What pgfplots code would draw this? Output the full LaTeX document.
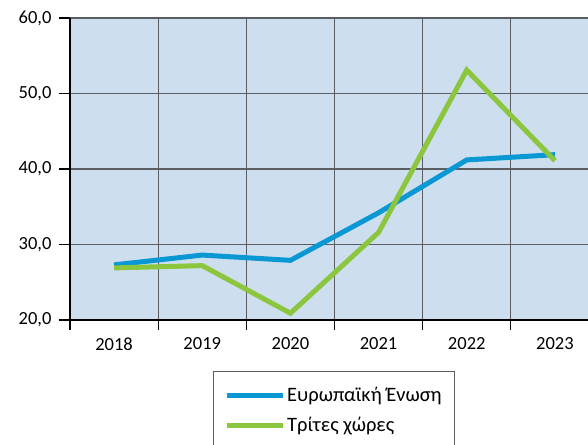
\documentclass[border=0pt]{standalone}
\usepackage{fontspec}
\setmainfont{Carlito}
\usepackage{pgfplots}
\pgfplotsset{compat=1.18}
\definecolor{bgblue}{HTML}{CDDFEE}
\definecolor{eublue}{HTML}{0A98D4}
\definecolor{tcgreen}{HTML}{8CC63F}
\definecolor{gridgray}{HTML}{5A5E63}
\begin{document}
\begin{tikzpicture}[x=1pt,y=1pt]
\useasboundingbox (0,0) rectangle (588,444);
\begin{axis}[
  at={(70pt,124pt)}, anchor=south west,
  scale only axis,
  width=529pt, height=302pt,
  xmin=-0.5, xmax=5.5,
  ymin=20, ymax=60,
  axis lines=left,
  axis line style={-, black, line width=1.6pt},
  axis background/.style={fill=bgblue},
  xtick={0,1,2,3,4,5},
  xticklabels={2018,2019,2020,2021,2022,2023},
  minor xtick={-0.5,0.5,1.5,2.5,3.5,4.5,5.5},
  major x tick style={draw=none},
  minor x tick style={black, line width=1.3pt},
  minor tick length=10pt,
  ytick={20,30,40,50,60},
  ytick style={black, line width=1.3pt},
  major tick length=11pt,
  tick align=outside,
  xminorgrids, ymajorgrids,
  grid style={gridgray, line width=1.3pt},
  minor grid style={gridgray, line width=1.3pt},
  ticklabel style={font=\fontsize{18.5}{20}\selectfont},
  /pgf/number format/.cd, fixed, fixed zerofill, precision=1, use comma, assume math mode=true,
  /pgfplots/.cd,
  yticklabel style={xshift=-4pt},
  xticklabel style={yshift=-3pt},
  legend style={
    at={(0.2698,-0.169)}, anchor=north west,
    draw=gridgray, line width=1pt, fill=white,
    font=\fontsize{20.5}{22}\selectfont,
    row sep=10pt, inner xsep=11pt, inner ysep=14pt,
    cells={anchor=west},
  },
  legend image code/.code={\draw[#1, line width=5pt] (0pt,0pt) -- (56pt,0pt);},
]
\addplot[eublue, line width=5pt] coordinates {
  (0,27.3) (1,28.6) (2,27.9) (3,34.2) (4,41.2) (5,41.9)};
\addlegendentry{Ευρωπαϊκή Ένωση}
\addplot[tcgreen, line width=5pt] coordinates {
  (0,26.9) (1,27.2) (2,20.9) (3,31.6) (4,53.1) (5,41.1)};
\addlegendentry{Τρίτες χώρες}
\end{axis}
\end{tikzpicture}
\end{document}
